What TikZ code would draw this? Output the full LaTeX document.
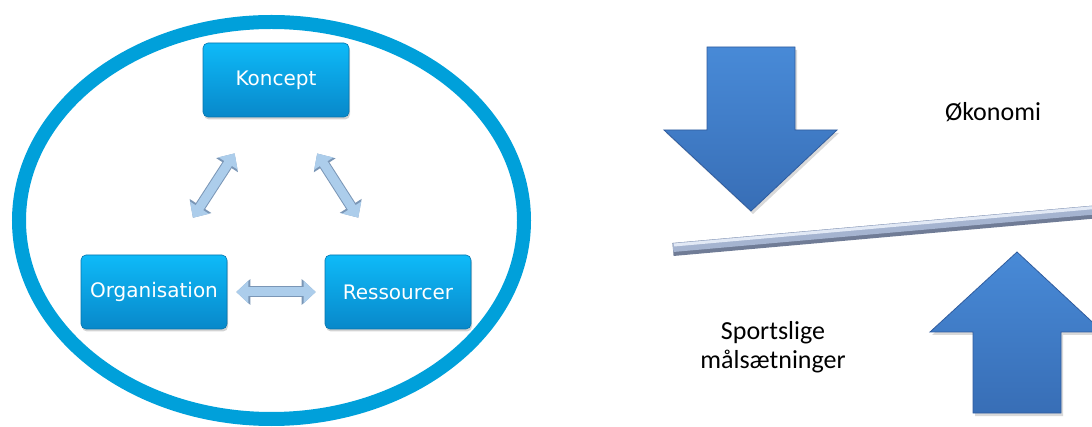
\documentclass[tikz,border=0pt]{standalone}
\usepackage{fontspec}
\setmainfont{DejaVu Sans}
\newfontfamily\calibri{Carlito}
\usetikzlibrary{positioning,arrows.meta,shadows}

\definecolor{ringblue}{RGB}{0,160,218}
\definecolor{boxtop}{RGB}{14,186,248}
\definecolor{boxbottom}{RGB}{8,136,202}
\definecolor{arrowfill}{RGB}{172,205,235}
\definecolor{arrowedge}{RGB}{122,150,182}
\definecolor{bigtop}{RGB}{72,138,215}
\definecolor{bigbottom}{RGB}{56,110,182}
\definecolor{bigedge}{RGB}{48,92,158}
\definecolor{beamdark}{RGB}{112,124,150}
\definecolor{beammid}{RGB}{165,180,208}
\definecolor{beamlight}{RGB}{226,233,245}

\tikzset{
  box/.style={rectangle, rounded corners=5pt, minimum width=146pt, minimum height=74pt,
    top color=boxtop, bottom color=boxbottom, draw=boxbottom!85!black, line width=0.6pt,
    text=white, font=\fontsize{20pt}{24pt}\selectfont,
    drop shadow={shadow xshift=1pt, shadow yshift=-2.5pt, opacity=0.35}},
  twoway/.style={draw=arrowfill, line width=9pt,
    {Triangle[width=22pt,length=12pt]}-{Triangle[width=22pt,length=12pt]},
    preaction={draw=arrowedge, line width=11pt,
      {Triangle[width=25pt,length=14pt]}-{Triangle[width=25pt,length=14pt]}}},
  bigarrow/.style={top color=bigtop, bottom color=bigbottom, draw=bigedge, line width=0.8pt,
    drop shadow={shadow xshift=2pt, shadow yshift=-3pt, opacity=0.3}},
  side/.style={font=\calibri\fontsize{26pt}{29pt}\selectfont, align=center}
}

\begin{document}
\begin{tikzpicture}[x=1pt,y=-1pt,on grid]
 \clip (0,0) rectangle (1092,427);
 % left: ring with the three boxes
 \draw[ringblue, line width=14pt] (271.5,220.5) ellipse [x radius=252.5, y radius=198.5];
 \node[box] (koncept) at (276,80) {Koncept};
 \node[box] (organisation) [below left=212pt and 122pt of koncept] {Organisation};
 \node[box] (ressourcer) [right=244pt of organisation] {Ressourcer};
 \draw[twoway, shorten <=43pt, shorten >=44pt] ([xshift=-18pt]koncept.south) -- ([xshift=15pt]organisation.north);
 \draw[twoway, shorten <=43pt, shorten >=44pt] ([xshift=18pt]koncept.south) -- ([xshift=-16pt]ressourcer.north);
 \draw[twoway, shorten <=9pt, shorten >=9pt] (organisation.east) -- (ressourcer.west);
 % right: the balance
 \shade[bigarrow] (707,47) -- (795,47) -- (795,130) -- (837,130) -- (751,211) -- (664,130) -- (707,130) -- cycle;
 \draw[beamdark, line width=13pt] (673,249.5) -- (1095,212);
 \draw[beammid, line width=9pt] (673,247.5) -- (1095,210);
 \draw[beamlight, line width=3pt] (674,245) -- (1095,207.5);
 \shade[bigarrow] (973,413) -- (1061,413) -- (1061,332) -- (1103,332) -- (1017,252) -- (930,332) -- (973,332) -- cycle;
 \node[side] (okonomi) at (993,112) {Økonomi};
 \node[side] (sport) at (773,347) {Sportslige\\målsætninger};
\end{tikzpicture}
\end{document}
